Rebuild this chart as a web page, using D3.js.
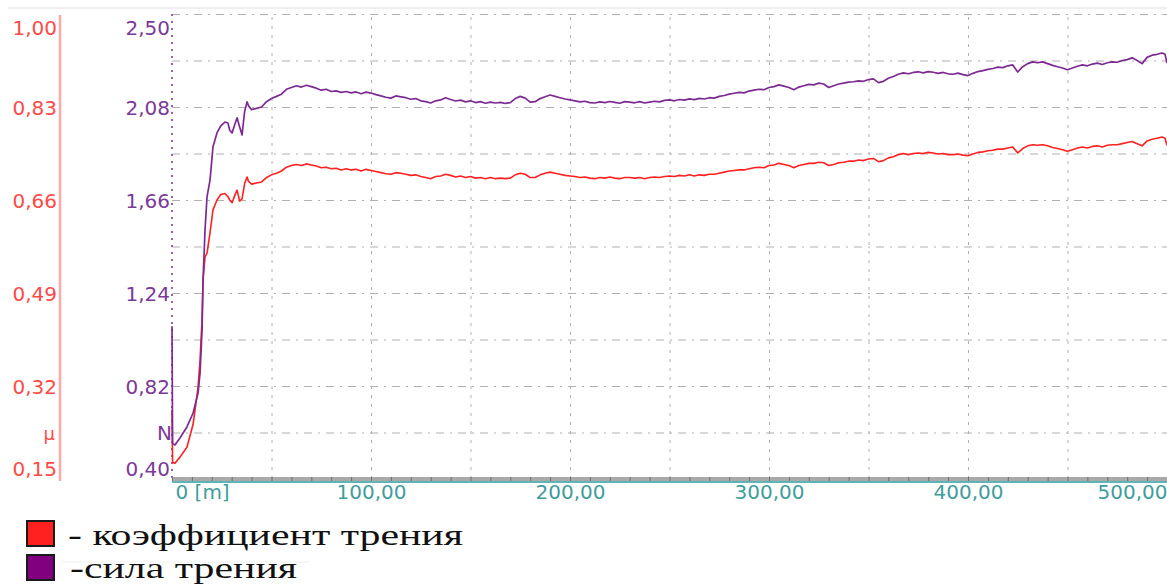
<!DOCTYPE html>
<html>
<head>
<meta charset="utf-8">
<script src="https://cdn.jsdelivr.net/npm/d3@7"></script>
<style>
  html, body { margin: 0; padding: 0; background: #fff; }
  svg { display: block; }
</style>
</head>
<body>
<script>
// Friction test record: distance [m], friction force [N], friction coefficient μ
const distance = [
  0, 0.3, 1.5, 4, 7.5, 10.6, 13.1, 14.1, 15.1, 15.6, 16.6, 17.6, 19.1, 20.6, 22.6, 24.5, 26.6, 28.1, 29, 30.2, 31.5, 32.7, 34, 35.2, 36.5, 37.7, 38.5,
  40, 42.5, 45, 47.5, 50, 52.5, 55, 57.5, 60, 62.5, 65, 67.5, 70, 72.5, 75, 77.5, 80, 82.5, 85, 87.5, 90, 92.5, 95, 97.5,
  100, 102.5, 105, 107.5, 110, 112.5, 115, 117.5, 120, 122.5, 125, 127.5, 130, 132.5, 135, 137.5, 140, 142.5, 145, 147.5,
  150, 152.5, 155, 157.5, 160, 162.5, 165, 167.5, 170, 172.5, 175, 177.5, 180, 182.5, 185, 187.5, 190, 192.5, 195, 197.5,
  200, 202.5, 205, 207.5, 210, 212.5, 215, 217.5, 220, 222.5, 225, 227.5, 230, 232.5, 235, 237.5, 240, 242.5, 245, 247.5,
  250, 252.5, 255, 257.5, 260, 262.5, 265, 267.5, 270, 272.5, 275, 277.5, 280, 282.5, 285, 287.5, 290, 292.5, 295, 297.5,
  300, 302.5, 305, 307.5, 310, 312.5, 315, 317.5, 320, 322.5, 325, 327.5, 330, 332.5, 335, 337.5, 340, 342.5, 345, 347.5,
  350, 352.5, 355, 357.5, 360, 362.5, 365, 367.5, 370, 372.5, 375, 377.5, 380, 382.5, 385, 387.5, 390, 392.5, 395, 397.5,
  400, 402.5, 405, 407.5, 410, 412.5, 415, 417.5, 420, 422.5, 425, 427.5, 430, 432.5, 435, 437.5, 440, 442.5, 445, 447.5,
  450, 452.5, 455, 457.5, 460, 462.5, 465, 467.5, 470, 472.5, 475, 477.5, 480, 482.5, 485, 487.5, 490, 492.5, 495, 497.5,
  499, 500
];

const force = [
  1.09, 0.56, 0.554, 0.585, 0.635, 0.698, 0.788, 0.879, 1.073, 1.299, 1.525, 1.674, 1.750, 1.900, 1.963, 1.995, 2.012, 2.008, 1.975, 1.963, 2.000, 2.031, 1.990, 1.954, 2.060, 2.103, 2.085,
  2.068, 2.074, 2.080, 2.104, 2.118, 2.128, 2.138, 2.160, 2.168, 2.176, 2.170, 2.178, 2.172, 2.165, 2.156, 2.160, 2.150, 2.153, 2.146, 2.150, 2.144, 2.148, 2.140, 2.147,
  2.143, 2.136, 2.130, 2.124, 2.120, 2.130, 2.126, 2.122, 2.115, 2.118, 2.108, 2.104, 2.098, 2.108, 2.112, 2.122, 2.114, 2.107, 2.111, 2.103,
  2.108, 2.100, 2.104, 2.097, 2.102, 2.098, 2.101, 2.096, 2.100, 2.118, 2.128, 2.120, 2.102, 2.104, 2.118, 2.126, 2.134, 2.128, 2.122, 2.116,
  2.112, 2.108, 2.103, 2.106, 2.100, 2.098, 2.103, 2.100, 2.105, 2.101, 2.097, 2.104, 2.102, 2.099, 2.104, 2.098, 2.102, 2.106, 2.103, 2.110,
  2.112, 2.108, 2.114, 2.111, 2.117, 2.113, 2.119, 2.116, 2.122, 2.120, 2.128, 2.132, 2.138, 2.142, 2.146, 2.144, 2.152, 2.156, 2.160, 2.158,
  2.168, 2.172, 2.180, 2.174, 2.168, 2.158, 2.170, 2.176, 2.182, 2.180, 2.188, 2.184, 2.168, 2.176, 2.184, 2.188, 2.192, 2.194, 2.198, 2.196,
  2.204, 2.207, 2.190, 2.196, 2.210, 2.218, 2.228, 2.234, 2.230, 2.236, 2.239, 2.234, 2.240, 2.237, 2.232, 2.236, 2.230, 2.228, 2.233, 2.226,
  2.222, 2.232, 2.240, 2.244, 2.250, 2.254, 2.260, 2.258, 2.266, 2.270, 2.238, 2.262, 2.276, 2.284, 2.280, 2.284, 2.276, 2.268, 2.262, 2.256,
  2.248, 2.256, 2.264, 2.270, 2.266, 2.274, 2.278, 2.272, 2.280, 2.284, 2.282, 2.290, 2.294, 2.302, 2.290, 2.276, 2.304, 2.314, 2.318, 2.324,
  2.318, 2.279
];

const coefficient = [
  0.276, 0.180, 0.179, 0.190, 0.208, 0.250, 0.318, 0.368, 0.441, 0.514, 0.556, 0.563, 0.600, 0.642, 0.660, 0.670, 0.672, 0.666, 0.660, 0.655, 0.668, 0.678, 0.658, 0.662, 0.690, 0.702, 0.694,
  0.689, 0.691, 0.693, 0.701, 0.706, 0.709, 0.713, 0.720, 0.723, 0.725, 0.723, 0.726, 0.724, 0.722, 0.719, 0.720, 0.717, 0.718, 0.715, 0.717, 0.715, 0.716, 0.713, 0.716,
  0.714, 0.712, 0.710, 0.708, 0.707, 0.710, 0.709, 0.707, 0.705, 0.706, 0.703, 0.701, 0.699, 0.703, 0.704, 0.707, 0.705, 0.702, 0.704, 0.701,
  0.703, 0.700, 0.701, 0.699, 0.701, 0.699, 0.700, 0.699, 0.700, 0.706, 0.709, 0.707, 0.701, 0.701, 0.706, 0.709, 0.711, 0.709, 0.707, 0.705,
  0.704, 0.703, 0.701, 0.702, 0.700, 0.699, 0.701, 0.700, 0.702, 0.700, 0.699, 0.701, 0.701, 0.700, 0.701, 0.699, 0.701, 0.702, 0.701, 0.703,
  0.704, 0.703, 0.705, 0.704, 0.706, 0.704, 0.706, 0.705, 0.707, 0.707, 0.709, 0.711, 0.713, 0.714, 0.715, 0.715, 0.717, 0.719, 0.720, 0.719,
  0.723, 0.724, 0.727, 0.725, 0.723, 0.719, 0.723, 0.725, 0.727, 0.727, 0.729, 0.728, 0.723, 0.725, 0.728, 0.729, 0.731, 0.731, 0.733, 0.732,
  0.735, 0.736, 0.730, 0.732, 0.737, 0.739, 0.743, 0.745, 0.743, 0.745, 0.746, 0.745, 0.747, 0.746, 0.744, 0.745, 0.743, 0.743, 0.744, 0.742,
  0.741, 0.744, 0.747, 0.748, 0.750, 0.751, 0.753, 0.753, 0.755, 0.757, 0.746, 0.754, 0.759, 0.761, 0.760, 0.761, 0.759, 0.756, 0.754, 0.752,
  0.749, 0.752, 0.755, 0.757, 0.755, 0.758, 0.759, 0.757, 0.760, 0.761, 0.761, 0.763, 0.765, 0.767, 0.763, 0.759, 0.768, 0.771, 0.773, 0.775,
  0.773, 0.760
];

const forceTicks = [0.40, 0.82, 1.24, 1.66, 2.08, 2.50];
const coefTicks = [0.15, 0.32, 0.49, 0.66, 0.83, 1.00];
const distanceTicks = [0, 100, 200, 300, 400, 500];
const seriesNames = ["- коэффициент трения", "-сила трения"];
const seriesColors = ["#ff2020", "#800080"];

const W = 1167, H = 586;
const plotL = 172, plotR = 1167, plotT = 14, plotB = 479;
const labelFont = "DejaVu Sans, Verdana, sans-serif";

const x = d3.scaleLinear().domain([0, 500]).range([plotL, plotR]);
const yF = d3.scaleLinear().domain([0.40, 2.50]).range([plotB, plotT]);
const yC = d3.scaleLinear().domain([0.15, 1.00]).range([plotB, plotT]);

const comma = v => d3.format(".2f")(v).replace(".", ",");

const svg = d3.select("body").append("svg").attr("width", W).attr("height", H);
svg.append("rect").attr("width", W).attr("height", H).attr("fill", "#fff");

// thin frame rule above the plot
svg.append("line").attr("x1", 8).attr("x2", W).attr("y1", 8).attr("y2", 8)
  .attr("stroke", "#dedede").attr("stroke-width", 1.2);

// horizontal grid (every 0.21 N)
const hGrid = d3.range(0, 11).map(i => 0.40 + i * 0.21);
svg.append("g")
  .attr("transform", `translate(${plotL},0)`)
  .call(d3.axisLeft(yF).tickValues(hGrid).tickSize(-(plotR - plotL)).tickFormat(""))
  .call(g => g.select(".domain").remove())
  .call(g => g.selectAll("line")
    .attr("stroke", "#b0b0b0").attr("stroke-width", 1)
    .attr("stroke-dasharray", "8,6,2,6"));

// vertical grid (every 50 m)
svg.append("g")
  .attr("transform", `translate(0,${plotB})`)
  .call(d3.axisBottom(x).tickValues(d3.range(50, 501, 50)).tickSize(-(plotB - plotT)).tickFormat(""))
  .call(g => g.select(".domain").remove())
  .call(g => g.selectAll("line")
    .attr("stroke", "#b0b0b0").attr("stroke-width", 1)
    .attr("stroke-dasharray", "3,6"));

// distance axis: grey band with teal underline
svg.append("rect").attr("x", plotL).attr("y", plotB - 2).attr("width", plotR - plotL).attr("height", 4)
  .attr("fill", "#a9a9a9");
svg.append("line").attr("x1", plotL).attr("x2", plotR).attr("y1", plotB + 3).attr("y2", plotB + 3)
  .attr("stroke", "#5fb5b5").attr("stroke-width", 2);
svg.append("g")
  .attr("transform", `translate(0,${plotB - 2})`)
  .call(d3.axisBottom(x).tickValues(d3.range(0, 501, 10)).tickSize(4).tickFormat(""))
  .call(g => g.select(".domain").remove())
  .call(g => g.selectAll("line").attr("stroke", "#6e6e6e").attr("stroke-width", 1));

const xLabels = svg.append("g")
  .attr("transform", `translate(0,${plotB + 4})`)
  .call(d3.axisBottom(x).tickValues(distanceTicks).tickSize(0).tickPadding(2)
    .tickFormat(d => d === 0 ? "0 [m]" : comma(d)))
  .call(g => g.select(".domain").remove());
xLabels.selectAll("text")
  .attr("fill", "#3f9d9d").attr("font-family", labelFont).attr("font-size", 20)
  .attr("text-anchor", d => d === 0 ? "start" : (d === 500 ? "end" : "middle"))
  .attr("dx", d => d === 0 ? 3 : 0);

// force axis (purple, dotted spine)
svg.append("line").attr("x1", plotL).attr("x2", plotL).attr("y1", plotT).attr("y2", plotB)
  .attr("stroke", "#9b5fb5").attr("stroke-width", 2).attr("stroke-dasharray", "2,5");
const fAxis = svg.append("g")
  .attr("transform", `translate(${plotL - 1},0)`)
  .call(d3.axisLeft(yF).tickValues(forceTicks).tickSize(0).tickPadding(1).tickFormat(comma))
  .call(g => g.select(".domain").remove());
fAxis.selectAll("text")
  .attr("fill", "#7b3a98").attr("font-family", labelFont).attr("font-size", 20)
  .attr("dy", d => d === 2.50 ? "1.0em" : (d === 0.40 ? "-0.2em" : "0.35em"));

// coefficient axis (red spine)
svg.append("line").attr("x1", 60).attr("x2", 60).attr("y1", 15).attr("y2", 481)
  .attr("stroke", "#ffa8a8").attr("stroke-width", 2.5);
const cAxis = svg.append("g")
  .attr("transform", `translate(57,0)`)
  .call(d3.axisLeft(yC).tickValues(coefTicks).tickSize(0).tickPadding(0).tickFormat(comma))
  .call(g => g.select(".domain").remove());
cAxis.selectAll("text")
  .attr("fill", "#ff4a4a").attr("font-family", labelFont).attr("font-size", 20)
  .attr("dy", d => d === 1.00 ? "1.0em" : (d === 0.15 ? "-0.2em" : "0.35em"));

// unit markers
svg.append("text").attr("x", 55).attr("y", 440).attr("text-anchor", "end")
  .attr("fill", "#ff4a4a").attr("font-family", labelFont).attr("font-size", 18).text("μ");
svg.append("text").attr("x", 172).attr("y", 440).attr("text-anchor", "end")
  .attr("fill", "#7b3a98").attr("font-family", labelFont).attr("font-size", 20).text("N");

// series lines
const coefData = distance.map((d, i) => [d, coefficient[i]]);
const forceData = distance.map((d, i) => [d, force[i]]);

svg.append("path").datum(coefData)
  .attr("fill", "none").attr("stroke", seriesColors[0]).attr("stroke-width", 1.6)
  .attr("stroke-linejoin", "round")
  .attr("d", d3.line().x(d => x(d[0])).y(d => yC(d[1])));

svg.append("path").datum(forceData)
  .attr("fill", "none").attr("stroke", "#7d2a93").attr("stroke-width", 1.7)
  .attr("stroke-linejoin", "round")
  .attr("d", d3.line().x(d => x(d[0])).y(d => yF(d[1])));

// legend
const legend = svg.append("g");
const legendRows = [
  { y: 521, textX: 68, base: 545, len: 395 },
  { y: 555, textX: 70, base: 578, len: 227 }
];
legendRows.forEach((r, i) => {
  legend.append("rect").attr("x", 27).attr("y", r.y).attr("width", 27).attr("height", 25)
    .attr("fill", seriesColors[i]).attr("stroke", "#1a1a1a").attr("stroke-width", 2);
  legend.append("text").attr("x", r.textX).attr("y", r.base)
    .attr("font-family", "Liberation Serif, Times New Roman, serif").attr("font-size", 29)
    .attr("fill", "#111")
    .attr("textLength", r.len).attr("lengthAdjust", "spacingAndGlyphs")
    .text(seriesNames[i]);
});
legend.append("line").attr("x1", 62).attr("x2", 310).attr("y1", 562).attr("y2", 562)
  .attr("stroke", "#f0f0f0").attr("stroke-width", 1);
</script>
</body>
</html>
